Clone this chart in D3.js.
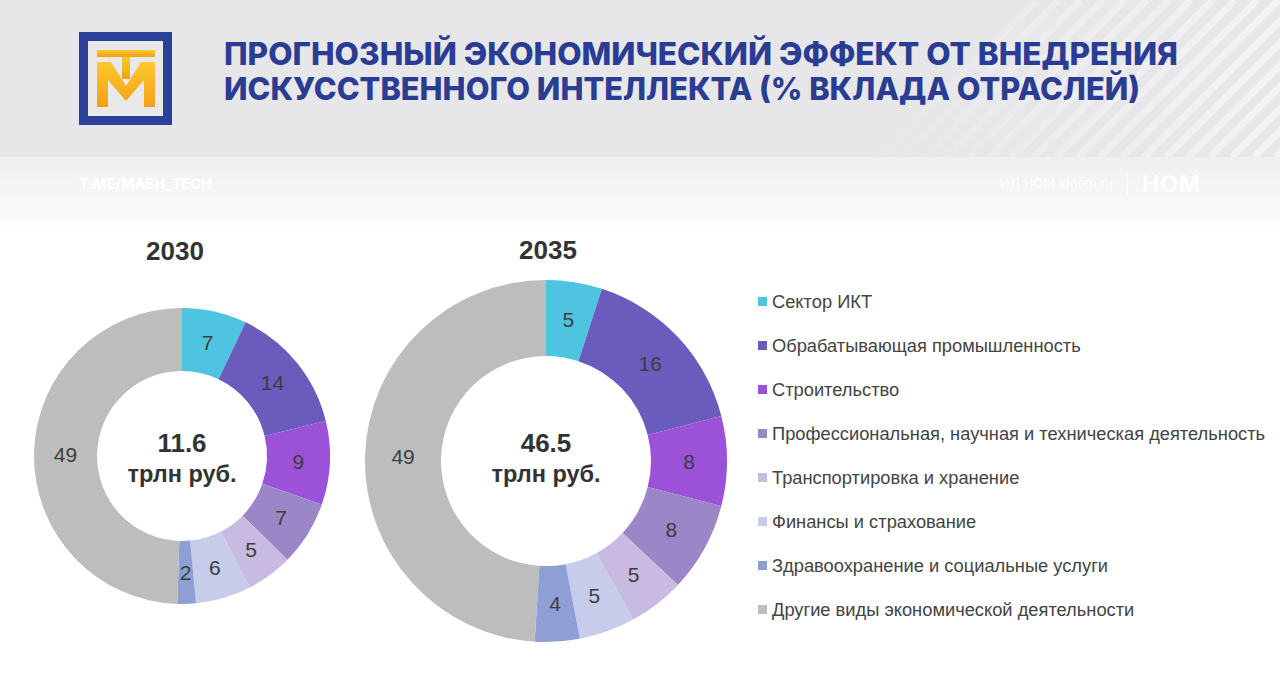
<!DOCTYPE html>
<html>
<head>
<meta charset="utf-8">
<script src="https://cdn.jsdelivr.net/npm/d3@7"></script>
<style>
  body { margin: 0; background: #fff; }
  svg { display: block; }
</style>
</head>
<body>
<svg id="chart" width="1280" height="690"></svg>
<script>
// data
var categories = [
    "Сектор ИКТ",
    "Обрабатывающая промышленность",
    "Строительство",
    "Профессиональная, научная и техническая деятельность",
    "Транспортировка и хранение",
    "Финансы и страхование",
    "Здравоохранение и социальные услуги",
    "Другие виды экономической деятельности"
];
var colors = ["#4fc4e0", "#6a5cbd", "#9b52d8", "#9b86c8", "#c8bae0", "#c6cce9", "#8e9fd6", "#bdbdbd"];
var years = ["2030", "2035"];
var values2030 = [7, 14, 9, 7, 5, 6, 2, 49];
var values2035 = [5, 16, 8, 8, 5, 5, 4, 49];
var totals = ["11.6", "46.5"];
var totalUnit = "трлн руб.";
var titleLines = ["ПРОГНОЗНЫЙ ЭКОНОМИЧЕСКИЙ ЭФФЕКТ ОТ ВНЕДРЕНИЯ", "ИСКУССТВЕННОГО ИНТЕЛЛЕКТА (% ВКЛАДА ОТРАСЛЕЙ)"];

var svg = d3.select("#chart");
var defs = svg.append("defs");

// header background
var fade = defs.append("linearGradient").attr("id", "fade")
    .attr("x1", 0).attr("y1", 0).attr("x2", 0).attr("y2", 1);
fade.append("stop").attr("offset", "0%").attr("stop-color", "#eeeff1");
fade.append("stop").attr("offset", "100%").attr("stop-color", "#ffffff");

var gold = defs.append("linearGradient").attr("id", "gold")
    .attr("x1", 0).attr("y1", 0).attr("x2", 0).attr("y2", 1);
gold.append("stop").attr("offset", "0%").attr("stop-color", "#fbc92c");
gold.append("stop").attr("offset", "100%").attr("stop-color", "#f4a016");

var stripeFade = defs.append("linearGradient").attr("id", "stripeFade")
    .attr("x1", 0).attr("y1", 0).attr("x2", 1).attr("y2", 0);
stripeFade.append("stop").attr("offset", "0%").attr("stop-color", "#fff").attr("stop-opacity", 0);
stripeFade.append("stop").attr("offset", "100%").attr("stop-color", "#fff").attr("stop-opacity", 1);
defs.append("mask").attr("id", "stripeMask")
    .append("rect").attr("x", 850).attr("y", 0).attr("width", 430).attr("height", 157)
    .attr("fill", "url(#stripeFade)");

svg.append("rect").attr("x", 0).attr("y", 0).attr("width", 1280).attr("height", 157).attr("fill", "#e7e7e9");
svg.append("rect").attr("x", 0).attr("y", 157).attr("width", 1280).attr("height", 80).attr("fill", "url(#fade)");

var stripes = svg.append("g").attr("mask", "url(#stripeMask)");
d3.range(0, 30).forEach(function (i) {
    var x0 = 880 + i * 22;
    stripes.append("line")
        .attr("x1", x0).attr("y1", 157).attr("x2", x0 + 157).attr("y2", 0)
        .attr("stroke", "#f3f3f5").attr("stroke-width", 7);
});

// logo
var logo = svg.append("g");
logo.append("rect").attr("x", 83.5).attr("y", 36.5).attr("width", 84).attr("height", 84)
    .attr("fill", "#e9e9eb").attr("stroke", "#2c3f99").attr("stroke-width", 9);
logo.append("rect").attr("x", 97).attr("y", 50).attr("width", 58).attr("height", 7).attr("fill", "url(#gold)");
logo.append("path")
    .attr("d", "M97,62 L111,62 L126,86 L141,62 L155,62 L155,107 L144,107 L144,80 L126,101 L108,80 L108,107 L97,107 Z")
    .attr("fill", "url(#gold)");
logo.append("rect").attr("x", 122).attr("y", 57).attr("width", 8).attr("height", 22).attr("fill", "url(#gold)");

// title
svg.selectAll("text.title").data(titleLines).enter().append("text")
    .attr("class", "title")
    .attr("x", 224)
    .attr("y", function (d, i) { return 65 + i * 35; })
    .attr("textLength", function (d, i) { return i === 0 ? 954 : 916; })
    .attr("lengthAdjust", "spacingAndGlyphs")
    .style("font-family", "Inter, 'Open Sans', sans-serif")
    .style("font-weight", 800)
    .style("font-size", "31px")
    .attr("fill", "#2b3c93")
    .text(function (d) { return d; });

// footer strip texts
svg.append("text").attr("x", 79).attr("y", 189)
    .style("font-family", "Inter, sans-serif").style("font-weight", 700).style("font-size", "14.5px")
    .attr("fill", "#ffffff").text("T.ME/MASH_TECH");
svg.append("text").attr("x", 1113).attr("y", 188).attr("text-anchor", "end")
    .style("font-family", "Inter, sans-serif").style("font-size", "13px")
    .attr("fill", "#ffffff").text("ИД НОМ idnom.ru");
svg.append("line").attr("x1", 1127).attr("x2", 1127).attr("y1", 173).attr("y2", 196)
    .attr("stroke", "#ffffff").attr("stroke-width", 1);
svg.append("text").attr("x", 1142).attr("y", 192)
    .style("font-family", "Inter, sans-serif").style("font-weight", 600).style("font-size", "23px")
    .style("letter-spacing", "1px")
    .attr("fill", "#ffffff").text("НОМ");

// donuts
var pie = d3.pie().sort(null).value(function (d) { return d; });
var donuts = [
    { year: years[0], values: values2030, total: totals[0], cx: 182, cy: 456, r0: 85, r1: 148, yearX: 175, yearY: 260, totalY: 452, unitY: 482 },
    { year: years[1], values: values2035, total: totals[1], cx: 546, cy: 461, r0: 105, r1: 181, yearX: 548, yearY: 259, totalY: 452, unitY: 482 }
];

donuts.forEach(function (dn) {
    var arc = d3.arc().innerRadius(dn.r0).outerRadius(dn.r1);
    var g = svg.append("g").attr("transform", "translate(" + dn.cx + "," + dn.cy + ")");
    var slices = pie(dn.values);

    g.selectAll("path").data(slices).enter().append("path")
        .attr("d", arc)
        .attr("fill", function (d, i) { return colors[i]; });

    g.selectAll("text.val").data(slices).enter().append("text")
        .attr("class", "val")
        .attr("transform", function (d) { return "translate(" + arc.centroid(d) + ")"; })
        .attr("text-anchor", "middle")
        .attr("dy", "0.36em")
        .style("font-family", "'Liberation Sans', Arial, sans-serif")
        .style("font-size", "21px")
        .attr("fill", "#3d3d3d")
        .text(function (d) { return d.data; });

    svg.append("text").attr("x", dn.cx).attr("y", dn.totalY).attr("text-anchor", "middle")
        .style("font-family", "'Liberation Sans', Arial, sans-serif")
        .style("font-weight", "bold").style("font-size", "26px")
        .attr("fill", "#333").text(dn.total);
    svg.append("text").attr("x", dn.cx).attr("y", dn.unitY).attr("text-anchor", "middle")
        .style("font-family", "'Liberation Sans', Arial, sans-serif")
        .style("font-weight", "bold").style("font-size", "23.5px")
        .attr("fill", "#333").text(totalUnit);

    svg.append("text").attr("x", dn.yearX).attr("y", dn.yearY).attr("text-anchor", "middle")
        .style("font-family", "'Liberation Sans', Arial, sans-serif")
        .style("font-weight", "bold").style("font-size", "26px")
        .attr("fill", "#333").text(dn.year);
});

// legend
var legend = svg.append("g").attr("transform", "translate(758,302)");
var rows = legend.selectAll("g").data(categories).enter().append("g")
    .attr("transform", function (d, i) { return "translate(0," + i * 44 + ")"; });
rows.append("rect").attr("x", 0).attr("y", -5).attr("width", 9).attr("height", 9)
    .attr("fill", function (d, i) { return colors[i]; });
rows.append("text").attr("x", 14).attr("dy", "0.35em")
    .style("font-family", "'Liberation Sans', Arial, sans-serif")
    .style("font-size", "18.3px")
    .attr("fill", "#444")
    .text(function (d) { return d; });
</script>
</body>
</html>
